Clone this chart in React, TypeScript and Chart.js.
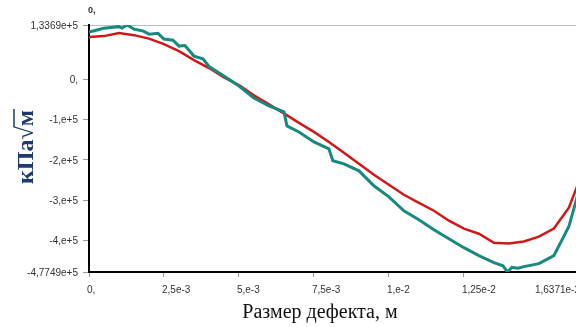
import React, { useEffect, useRef } from "react";
import { Chart, registerables } from "chart.js";

Chart.register(...registerables);

// x in millimetres (converted to metres below), y in units of 1e5 kPa·√m
const tealXmm = [0, 0.3, 0.5, 0.8, 1.0, 1.1, 1.27, 1.5, 1.8, 2.0, 2.3, 2.5, 2.8, 3.0, 3.2, 3.5, 3.8, 4.0, 4.5, 5.0, 5.5, 6.0, 6.5, 6.6, 7.0, 7.5, 8.0, 8.13, 8.5, 9.0, 9.5, 10.0, 10.5, 11.0, 11.5, 12.0, 12.5, 13.0, 13.5, 13.8, 13.95, 14.1, 14.3, 14.5, 15.0, 15.5, 16.0, 16.371];
const tealY = [1.16, 1.22, 1.259, 1.28, 1.296, 1.26, 1.3369, 1.235, 1.19, 1.111, 1.13, 0.988, 0.96, 0.815, 0.83, 0.568, 0.5, 0.309, 0.074, -0.173, -0.469, -0.667, -0.815, -1.16, -1.309, -1.556, -1.728, -2.02, -2.099, -2.272, -2.642, -2.914, -3.259, -3.481, -3.728, -3.951, -4.173, -4.37, -4.543, -4.62, -4.7749, -4.66, -4.68, -4.642, -4.568, -4.37, -3.65, -2.667];

const redXmm = [0, 0.5, 1.0, 1.5, 2.0, 2.5, 3.0, 3.5, 4.0, 4.5, 5.0, 5.5, 6.0, 6.5, 7.0, 7.5, 8.0, 8.5, 9.0, 9.5, 10.0, 10.5, 11.0, 11.5, 12.0, 12.5, 13.0, 13.5, 14.0, 14.5, 15.0, 15.5, 16.0, 16.371];
const redY = [1.037, 1.062, 1.136, 1.086, 1.0, 0.864, 0.691, 0.469, 0.272, 0.037, -0.148, -0.405, -0.627, -0.849, -1.086, -1.309, -1.556, -1.827, -2.099, -2.37, -2.617, -2.864, -3.062, -3.259, -3.506, -3.704, -3.827, -4.05, -4.07, -4.02, -3.9, -3.7, -3.185, -2.47];

const xTickValues = [0, 0.0025, 0.005, 0.0075, 0.01, 0.0125, 0.016371];
const xTickLabels = ["0,", "2,5e-3", "5,e-3", "7,5e-3", "1,e-2", "1,25e-2", "1,6371e-2"];
const yTickValues = [133690, 0, -100000, -200000, -300000, -400000, -477490];
const yTickLabels = ["1,3369e+5", "0,", "-1,e+5", "-2,e+5", "-3,e+5", "-4,e+5", "-4,7749e+5"];

const xTitle = "Размер дефекта, м";
const yTitleMain = "кПа√";
const yTitleRoot = "м";
const topLabel = "0,";

export default function App() {
  const ref = useRef<HTMLCanvasElement>(null);
  useEffect(() => {
    if (!ref.current) return;
    const teal = tealXmm.map((x, i) => ({ x: x / 1000, y: tealY[i] * 1e5 }));
    const red = redXmm.map((x, i) => ({ x: x / 1000, y: redY[i] * 1e5 }));

    const labelsPlugin = {
      id: "labels",
      afterDraw(chart: any) {
        const ctx = chart.ctx as CanvasRenderingContext2D;
        const xs = chart.scales.x;
        const ys = chart.scales.y;
        ctx.save();
        ctx.fillStyle = "#333";
        ctx.font = "10px 'Liberation Sans'";
        ctx.textBaseline = "middle";
        ctx.textAlign = "right";
        yTickValues.forEach((v, i) => {
          ctx.fillText(yTickLabels[i], 78, ys.getPixelForValue(v) + 1);
        });
        xTickValues.forEach((v, i) => {
          const px = xs.getPixelForValue(v);
          if (i === xTickValues.length - 1) {
            ctx.textAlign = "right";
            ctx.fillText(xTickLabels[i], px, 290);
          } else {
            ctx.textAlign = "left";
            ctx.fillText(xTickLabels[i], px - 2, 290);
          }
        });
        ctx.font = "bold 9px 'Liberation Sans'";
        ctx.textAlign = "left";
        ctx.fillText(topLabel, xs.getPixelForValue(0) - 1, 11);

        // x title
        ctx.fillStyle = "#111";
        ctx.font = "20px 'Liberation Serif'";
        ctx.textAlign = "center";
        ctx.textBaseline = "alphabetic";
        ctx.fillText(xTitle, 320, 318);

        // y title
        ctx.fillStyle = "#1e3a6e";
        ctx.strokeStyle = "#1e3a6e";
        ctx.font = "bold 24px 'Liberation Serif'";
        ctx.textAlign = "left";
        const wMain = ctx.measureText(yTitleMain).width;
        const wRoot = ctx.measureText(yTitleRoot).width;
        const total = wMain + wRoot;
        const sq = ctx.measureText("√");
        ctx.translate(33, 147);
        ctx.rotate(-Math.PI / 2);
        ctx.fillText(yTitleMain, -total / 2, 0);
        ctx.fillText(yTitleRoot, -total / 2 + wMain, 0);
        const top = -(sq.actualBoundingBoxAscent || 18) + 1;
        ctx.lineWidth = 1.5;
        ctx.beginPath();
        ctx.moveTo(-total / 2 + wMain - 1, top);
        ctx.lineTo(total / 2 + 1, top);
        ctx.stroke();
        ctx.restore();
      },
    };

    const chart = new Chart(ref.current, {
      type: "line",
      data: {
        datasets: [
          {
            data: teal,
            borderColor: "#17897f",
            borderWidth: 3,
            pointRadius: 0,
            tension: 0,
            order: 0,
          },
          {
            data: red,
            borderColor: "#d01818",
            borderWidth: 2.5,
            pointRadius: 0,
            tension: 0,
            order: 1,
          },
        ],
      },
      options: {
        animation: false,
        responsive: false,
        maintainAspectRatio: false,
        layout: { padding: { top: 25, right: 20, left: 0, bottom: 0 } },
        plugins: { legend: { display: false }, tooltip: { enabled: false } },
        scales: {
          x: {
            type: "linear",
            min: 0,
            max: 0.016371,
            afterBuildTicks: (s: any) => {
              s.ticks = xTickValues.map((v) => ({ value: v }));
            },
            afterFit: (s: any) => {
              s.height = 55;
            },
            ticks: { display: false },
            border: { color: "#000", width: 2 },
            grid: { drawOnChartArea: false, tickLength: 5, tickColor: "#999" },
          },
          y: {
            min: -477490,
            max: 133690,
            afterBuildTicks: (s: any) => {
              s.ticks = yTickValues.map((v) => ({ value: v }));
            },
            afterFit: (s: any) => {
              s.width = 89;
            },
            ticks: { display: false },
            border: { color: "#000", width: 2 },
            grid: {
              tickLength: 6,
              tickColor: "#999",
              color: (c: any) => (c.tick && c.tick.value === 133690 ? "#bdbdbd" : "rgba(0,0,0,0)"),
            },
          },
        },
      },
      plugins: [labelsPlugin],
    } as any);
    return () => chart.destroy();
  }, []);

  return (
    <div style={{ position: "fixed", left: 0, top: 0, width: 576, height: 327, overflow: "hidden", background: "#fff" }}>
      <canvas ref={ref} width={600} height={327} style={{ width: 600, height: 327, display: "block" }} />
    </div>
  );
}
